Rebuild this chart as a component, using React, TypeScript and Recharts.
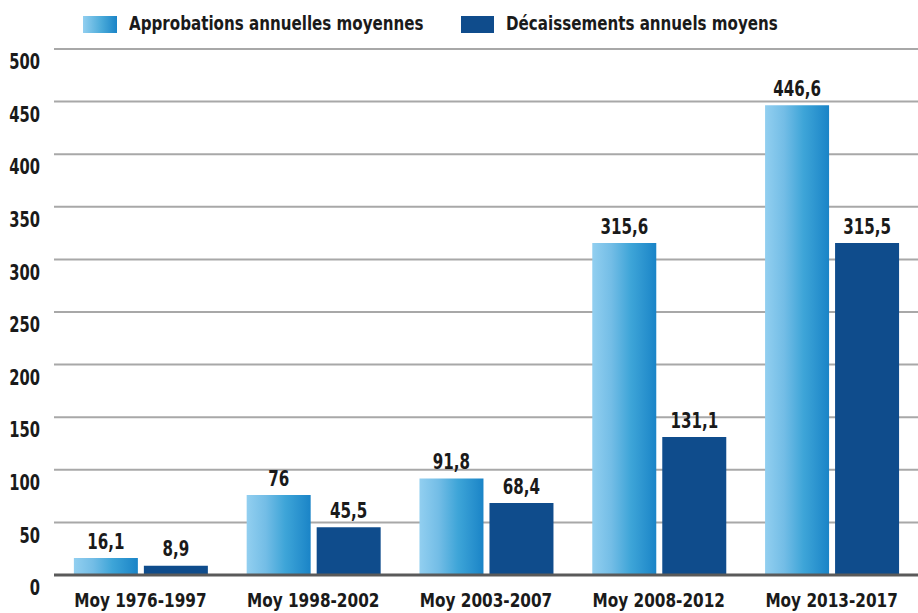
import React from 'react';
import { BarChart, Bar, XAxis, YAxis, CartesianGrid, LabelList } from 'recharts';

const categories = ['Moy 1976-1997', 'Moy 1998-2002', 'Moy 2003-2007', 'Moy 2008-2012', 'Moy 2013-2017'];
const approbations = [16.1, 76, 91.8, 315.6, 446.6];
const decaissements = [8.9, 45.5, 68.4, 131.1, 315.5];
const yTicks = [0, 50, 100, 150, 200, 250, 300, 350, 400, 450, 500];
const seriesNames = ['Approbations annuelles moyennes', 'Décaissements annuels moyens'];

const data = categories.map((c, i) => ({ cat: c, a: approbations[i], d: decaissements[i] }));

const FONT = "'DejaVu Sans Condensed', 'DejaVu Sans', sans-serif";
const DARK = '#0f4c8c';
const TXT = '#1a1a1a';

const fmt = (v: any) => String(v).replace('.', ',');

const SText = ({ x, y, sx, anchor, size, children }: any) => (
  <text
    transform={`translate(${x},${y}) scale(${sx},1)`}
    x={0}
    y={0}
    textAnchor={anchor}
    dominantBaseline="central"
    fontFamily={FONT}
    fontWeight="bold"
    fontSize={size}
    fill={TXT}
  >
    {children}
  </text>
);

const YTick = (props: any) => {
  const { y, payload } = props;
  return <SText x={40} y={y + 13} sx={0.78} anchor="end" size={21}>{payload.value}</SText>;
};

const XTick = (props: any) => {
  const { x, y, payload } = props;
  return <SText x={x} y={y + 17} sx={0.85} anchor="middle" size={20}>{payload.value}</SText>;
};

const BarLabel = (props: any) => {
  const { x, y, width, value } = props;
  return <SText x={x + width / 2} y={y - 17} sx={0.8} anchor="middle" size={21}>{fmt(value)}</SText>;
};

const legendText: React.CSSProperties = {
  position: 'absolute',
  top: 10,
  lineHeight: '26px',
  whiteSpace: 'nowrap',
  transform: 'scaleX(0.84)',
  transformOrigin: 'left center',
};

const LegendBox = () => (
  <div style={{ position: 'absolute', left: 0, top: 0, width: 918, height: 45, fontFamily: FONT, fontWeight: 'bold', fontSize: 20, color: TXT }}>
    <div style={{ position: 'absolute', left: 83, top: 16, width: 34, height: 17, background: 'linear-gradient(to right, #92cff0, #4aaad9 55%, #1a84c7)' }} />
    <div style={{ ...legendText, left: 129 }}>{seriesNames[0]}</div>
    <div style={{ position: 'absolute', left: 461, top: 16, width: 33, height: 17, background: DARK }} />
    <div style={{ ...legendText, left: 506 }}>{seriesNames[1]}</div>
  </div>
);

export default function App() {
  return (
    <div style={{ position: 'fixed', left: 0, top: 0, width: 918, height: 613, background: '#fff' }}>
      <BarChart width={918} height={613} data={data} margin={{ top: 49, right: 0, bottom: 0, left: 0 }} barGap={6} barCategoryGap="11.5%">
        <defs>
          <linearGradient id="gradA" x1="0" y1="0" x2="1" y2="0">
            <stop offset="0%" stopColor="#92cff0" />
            <stop offset="30%" stopColor="#73bde6" />
            <stop offset="60%" stopColor="#3ea5d8" />
            <stop offset="100%" stopColor="#1a84c7" />
          </linearGradient>
        </defs>
        <CartesianGrid vertical={false} stroke="#a8a8a8" strokeWidth={2} />
        <XAxis dataKey="cat" height={38} tickLine={false} axisLine={{ stroke: '#5a5a5a', strokeWidth: 3 }} tick={<XTick />} interval={0} />
        <YAxis width={54} domain={[0, 500]} ticks={yTicks} tickLine={false} axisLine={false} tick={<YTick />} interval={0} />
        <Bar dataKey="a" name={seriesNames[0]} fill="url(#gradA)" isAnimationActive={false}>
          <LabelList dataKey="a" content={<BarLabel />} />
        </Bar>
        <Bar dataKey="d" name={seriesNames[1]} fill={DARK} isAnimationActive={false}>
          <LabelList dataKey="d" content={<BarLabel />} />
        </Bar>
      </BarChart>
      <LegendBox />
    </div>
  );
}
